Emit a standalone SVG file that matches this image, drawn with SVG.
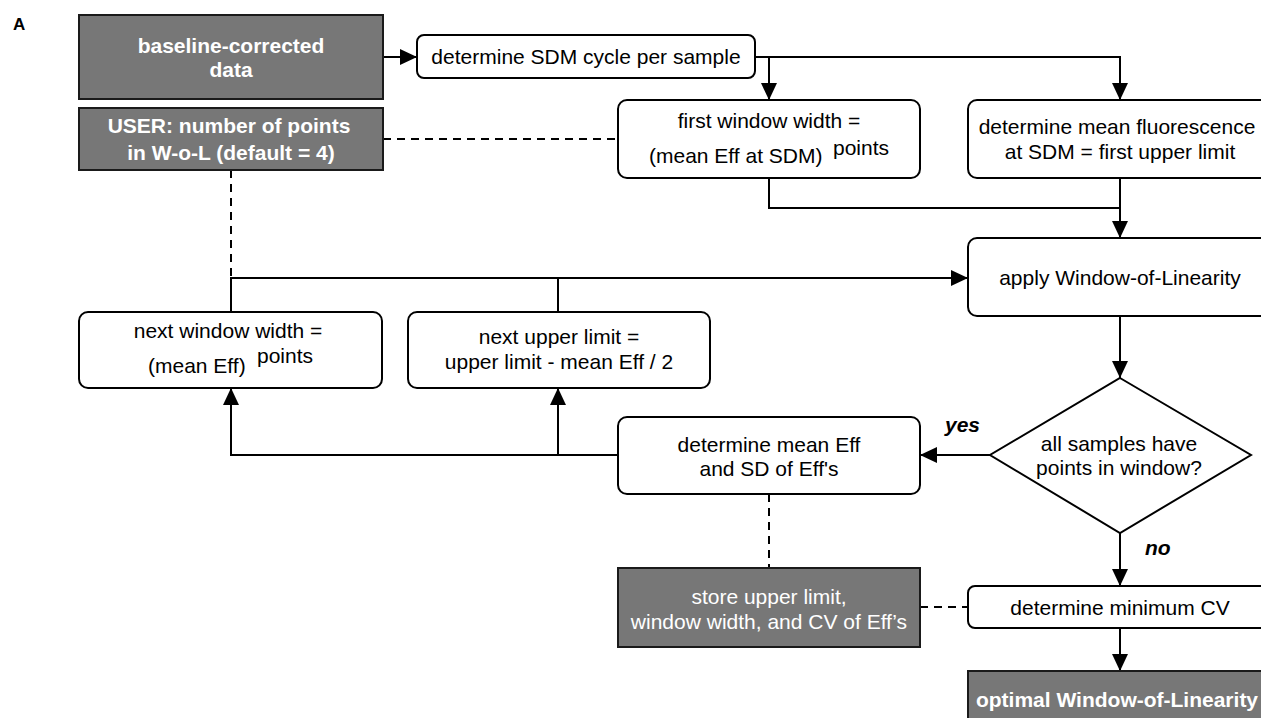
<svg xmlns="http://www.w3.org/2000/svg" width="1261" height="718" viewBox="0 0 1261 718">
<style>
  text { font-family: "Liberation Sans", Arial, Helvetica, sans-serif; font-size: 21px; fill: #000; }
  .box { fill: #fff; stroke: #000; stroke-width: 2; }
  .dark { fill: #777; stroke: #1a1a1a; stroke-width: 2; }
  .wb { fill: #fff; font-weight: bold; }
  .w { fill: #fff; }
  .c { text-anchor: middle; }
  .ln { fill: none; stroke: #000; stroke-width: 2; }
  .dash { fill: none; stroke: #000; stroke-width: 2; stroke-dasharray: 8 6; }
  .lbl { font-weight: bold; font-style: italic; }
</style>
<defs>
  <marker id="arr" markerUnits="userSpaceOnUse" markerWidth="18" markerHeight="16" refX="17" refY="8" orient="auto">
    <path d="M0,0 L17,8 L0,16 z" fill="#000"/>
  </marker>
</defs>
<rect width="1261" height="718" fill="#fff"/>
<text x="13" y="30" style="font-weight:bold;font-size:17px">A</text>

<g id="connectors">
  <path class="ln" d="M383,57 H417" marker-end="url(#arr)"/>
  <path class="ln" d="M755,57 H1120 V100" marker-end="url(#arr)"/>
  <path class="ln" d="M769,57 V100" marker-end="url(#arr)"/>
  <path class="ln" d="M769,178 V208 H1120"/>
  <path class="ln" d="M1120,178 V238" marker-end="url(#arr)"/>
  <path class="ln" d="M231,312 V278 H968" marker-end="url(#arr)"/>
  <path class="ln" d="M558,312 V278"/>
  <path class="ln" d="M1120,316 V378" marker-end="url(#arr)"/>
  <path class="ln" d="M990,455 H920" marker-end="url(#arr)"/>
  <path class="ln" d="M618,455 H231 V388" marker-end="url(#arr)"/>
  <path class="ln" d="M558,455 V388" marker-end="url(#arr)"/>
  <path class="ln" d="M1120,533 V586" marker-end="url(#arr)"/>
  <path class="ln" d="M1120,628 V671" marker-end="url(#arr)"/>
  <path class="dash" d="M383,139 H618"/>
  <path class="dash" d="M231,170 V278"/>
  <path class="dash" d="M769,494 V568"/>
  <path class="dash" d="M920,607 H968"/>
  <text x="945" y="432" class="lbl">yes</text>
  <text x="1145" y="555" class="lbl">no</text>
</g>

<g id="baseline">
  <rect class="dark" x="79" y="15" width="304" height="84"/>
  <text x="231" y="53" class="wb c">baseline-corrected</text>
  <text x="231" y="77" class="wb c">data</text>
</g>
<g id="user">
  <rect class="dark" x="79" y="108" width="304" height="62"/>
  <text x="229" y="133" class="wb c">USER: number of points</text>
  <text x="231" y="160" class="wb c">in W-o-L (default = 4)</text>
</g>
<g id="sdm">
  <rect class="box" x="417" y="35" width="338" height="43" rx="7"/>
  <text x="586" y="64" class="c">determine SDM cycle per sample</text>
</g>
<g id="firstwidth">
  <rect class="box" x="618" y="100" width="302" height="78" rx="9"/>
  <text x="769" y="128" class="c">first window width =</text>
  <text x="649" y="163">(mean Eff at SDM)</text>
  <text x="833" y="155">points</text>
</g>
<g id="meanfluor">
  <rect class="box" x="968" y="100" width="310" height="78" rx="9"/>
  <text x="1117" y="134" class="c">determine mean fluorescence</text>
  <text x="1120" y="159" class="c">at SDM = first upper limit</text>
</g>
<g id="apply">
  <rect class="box" x="968" y="238" width="310" height="78" rx="9"/>
  <text x="1120" y="285" class="c">apply Window-of-Linearity</text>
</g>
<g id="nextwidth">
  <rect class="box" x="79" y="312" width="303" height="76" rx="9"/>
  <text x="228" y="338" class="c">next window width =</text>
  <text x="148" y="373">(mean Eff)</text>
  <text x="257" y="363">points</text>
</g>
<g id="nextupper">
  <rect class="box" x="408" y="312" width="302" height="76" rx="9"/>
  <text x="559" y="344" class="c">next upper limit =</text>
  <text x="559" y="369" class="c">upper limit - mean Eff / 2</text>
</g>
<g id="decision">
  <polygon class="box" points="1120,378 1251,455 1120,533 990,455"/>
  <text x="1119" y="451" class="c">all samples have</text>
  <text x="1119" y="475" class="c">points in window?</text>
</g>
<g id="meaneff">
  <rect class="box" x="618" y="417" width="302" height="77" rx="9"/>
  <text x="769" y="452" class="c">determine mean Eff</text>
  <text x="769" y="476" class="c">and SD of Eff's</text>
</g>
<g id="store">
  <rect class="dark" x="618" y="568" width="302" height="79"/>
  <text x="769" y="604" class="w c">store upper limit,</text>
  <text x="769" y="629" class="w c">window width, and CV of Eff’s</text>
</g>
<g id="mincv">
  <rect class="box" x="968" y="586" width="310" height="42" rx="7"/>
  <text x="1120" y="615" class="c">determine minimum CV</text>
</g>
<g id="optimal">
  <rect class="dark" x="968" y="671" width="310" height="60"/>
  <text x="1117" y="707" class="wb c">optimal Window-of-Linearity</text>
</g>
</svg>
